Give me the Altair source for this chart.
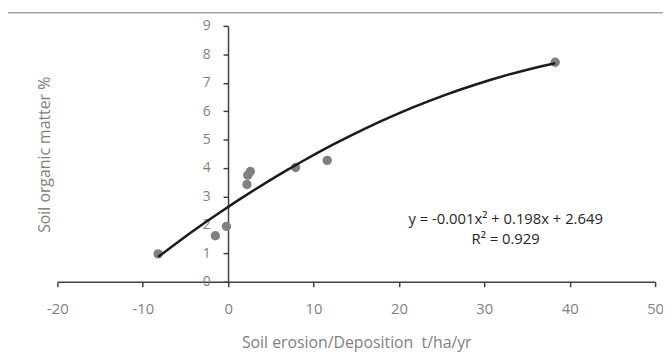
import altair as alt
import pandas as pd

# Data
erosion = [-8.2, -1.5, -0.2, 2.2, 2.3, 2.6, 7.9, 11.6, 38.3]
organic = [0.98, 1.62, 1.95, 3.42, 3.75, 3.88, 4.02, 4.27, 7.72]
x_ticks = [-20, -10, 0, 10, 20, 30, 40, 50]
y_ticks = [0, 1, 2, 3, 4, 5, 6, 7, 8, 9]
eq_text = ["y = -0.001x² + 0.198x + 2.649", "R² = 0.929"]
eq_x = [32.5, 32.5]
eq_y = [2.2, 1.5]

pts = pd.DataFrame({"x": erosion, "y": organic})
ann = pd.DataFrame({"x": eq_x, "y": eq_y, "t": eq_text})

FONT = "Open Sans"
GRAY = "#7f7f7f"
AXIS = "#404040"
LBL = "datum.value < 0 ? '-' + abs(datum.value) : '' + datum.value"

xscale = alt.Scale(domain=[-20, 50], nice=False, zero=False)
yscale = alt.Scale(domain=[0, 9], nice=False, zero=False)

x_axis = alt.Axis(
    values=x_ticks, labelExpr=LBL, title="Soil erosion/Deposition\u00a0 t/ha/yr", grid=False,
    tickSize=5, tickColor=AXIS, domainColor=AXIS, domainWidth=1.5, tickWidth=1.5,
    labelFont=FONT, labelFontSize=15, labelColor=GRAY, labelPadding=15,
    labelFlush=False, labelOverlap=False,
    titleFont=FONT, titleFontSize=16, titleFontWeight="normal", titleColor=GRAY,
    titleBaseline="middle", titleY=62, titleX=302.5,
)
y_axis = alt.Axis(
    values=y_ticks, labelExpr=LBL, title="Soil organic matter %", grid=False, offset=-172.7,
    tickSize=5, tickColor=AXIS, domainColor=AXIS, domainWidth=1.5, tickWidth=1.5,
    labelFont=FONT, labelFontSize=14, labelColor=GRAY, labelPadding=13,
    labelFlush=False, labelOverlap=False,
    titleFont=FONT, titleFontSize=16, titleFontWeight="normal", titleColor=GRAY,
    titleBaseline="middle", titleAlign="center", titleAngle=270,
    titleX=-186, titleY=130,
)

base = alt.Chart(pts)

points = base.mark_circle(size=90, color="#808080", opacity=1).encode(
    x=alt.X("x:Q", scale=xscale, axis=x_axis),
    y=alt.Y("y:Q", scale=yscale, axis=y_axis),
)

fit = base.transform_regression("x", "y", method="poly", order=2).mark_line(
    color="#1a1a1a", strokeWidth=2.5
).encode(
    x=alt.X("x:Q", scale=xscale, axis=x_axis),
    y=alt.Y("y:Q", scale=yscale, axis=y_axis),
)

text = alt.Chart(ann).mark_text(
    font=FONT, fontSize=15, color="#262626", align="center", baseline="middle"
).encode(
    x=alt.X("x:Q", scale=xscale, axis=x_axis),
    y=alt.Y("y:Q", scale=yscale, axis=y_axis),
    text="t:N",
)

top_line = alt.Chart(pd.DataFrame({"a": [0]})).mark_rule(
    color="#a6a6a6", strokeWidth=1.5
).encode(x=alt.value(-50), x2=alt.value(613), y=alt.value(-13.3))

chart = alt.layer(top_line, points, fit, text).properties(
    width=605, height=259,
    autosize=alt.AutoSizeParams(type="none"),
    padding={"left": 50, "top": 16, "right": 8, "bottom": 71},
).configure_view(stroke=None)

chart.save("out.html", embed_options={"renderer": "svg", "actions": False})
